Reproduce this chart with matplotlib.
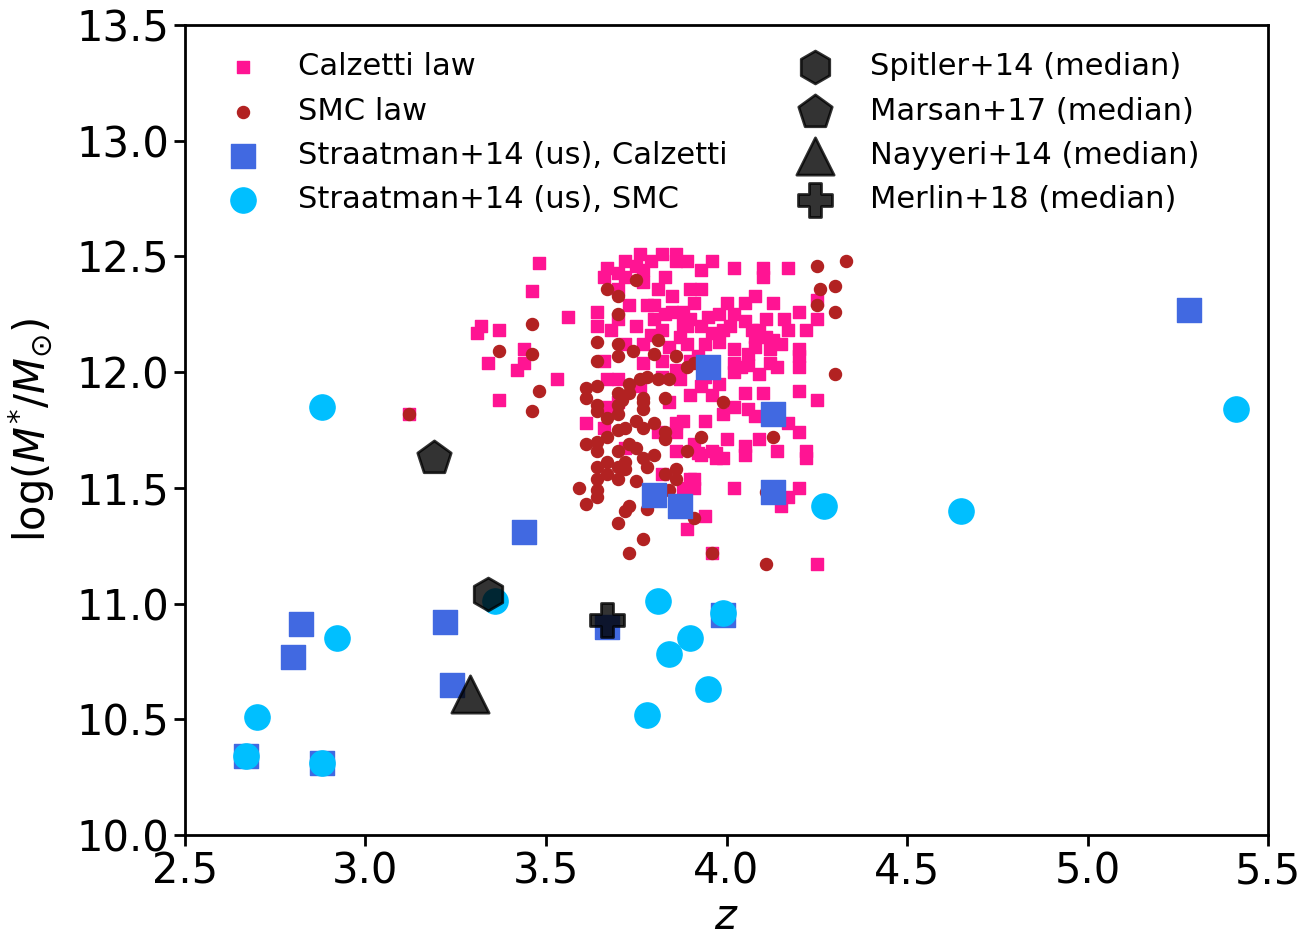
import numpy as np
import matplotlib
matplotlib.use('Agg')
import matplotlib.pyplot as plt

# sample from the Calzetti attenuation law
calz_z = [3.12, 3.32, 3.31, 3.37, 3.44, 3.34, 3.44, 3.42, 3.37, 3.48, 3.46, 3.56, 3.53, 3.64,
          3.66, 3.70, 3.72, 3.75, 3.76, 3.86, 3.86, 3.85, 3.70, 3.73, 3.75, 3.70, 3.80, 3.80,
          3.85, 3.88, 3.77, 3.84, 3.77, 3.82, 3.67, 3.70, 3.76, 3.61, 3.67, 3.70, 3.84, 3.86,
          3.81, 3.86, 3.72, 3.86, 3.82, 3.90, 3.88, 3.66, 3.88, 3.94, 3.91, 3.93, 3.96, 3.97,
          3.91, 3.91, 3.94, 3.89, 3.96, 3.89, 4.02, 4.10, 4.17, 4.10, 4.25, 3.91, 4.00, 4.05,
          4.08, 4.13, 4.20, 4.25, 4.22, 3.88, 3.95, 3.89, 3.93, 3.99, 4.05, 4.11, 4.16, 4.11,
          4.08, 4.13, 3.96, 4.01, 3.94, 3.98, 4.02, 4.06, 4.08, 4.12, 4.20, 4.20, 3.90, 4.02,
          4.04, 4.12, 4.14, 4.20, 3.94, 3.98, 4.02, 4.05, 4.10, 4.20, 4.25, 4.02, 4.06, 4.08,
          3.99, 4.17, 4.20, 3.92, 3.97, 4.05, 4.05, 4.14, 4.22, 4.22, 3.99, 4.02, 4.20, 4.17,
          4.15, 4.25, 3.90, 3.93, 3.83, 3.78, 3.89, 3.92, 3.87, 3.82, 3.86, 3.77, 3.81, 3.83,
          3.67, 3.79, 3.82, 3.77, 3.93, 3.96, 3.72, 3.64, 3.68, 3.79, 3.82, 3.90, 3.98, 4.02,
          4.07, 4.09, 4.17, 4.15, 4.06, 4.09, 3.96, 3.90, 4.00, 4.09, 3.87, 3.93, 3.72, 3.66]
calz_m = [11.82, 12.20, 12.17, 12.18, 12.10, 12.04, 12.04, 12.01, 11.88, 12.47, 12.35, 12.24, 11.97, 12.20,
          12.41, 12.43, 12.41, 12.46, 12.51, 12.51, 12.48, 12.33, 12.36, 12.29, 12.20, 12.23, 12.29, 12.23,
          12.26, 12.21, 12.12, 12.11, 12.04, 11.98, 11.97, 11.97, 11.94, 11.78, 11.85, 11.87, 11.87, 11.78,
          11.74, 11.74, 11.67, 11.66, 11.56, 11.54, 11.50, 11.76, 11.79, 11.79, 11.69, 11.64, 11.66, 11.63,
          11.54, 11.50, 11.38, 11.32, 11.22, 12.48, 12.45, 12.45, 12.45, 12.41, 12.31, 12.30, 12.30, 12.30,
          12.33, 12.30, 12.26, 12.23, 12.18, 12.26, 12.24, 12.20, 12.20, 12.18, 12.22, 12.23, 12.23, 12.15,
          12.15, 12.14, 12.17, 12.20, 12.12, 12.13, 12.10, 12.08, 12.11, 12.10, 12.10, 12.07, 12.05, 12.04,
          12.02, 12.04, 12.02, 12.02, 11.98, 11.95, 12.00, 11.91, 11.91, 11.92, 11.88, 11.85, 11.84, 11.81,
          11.82, 11.78, 11.74, 11.65, 11.65, 11.68, 11.64, 11.66, 11.66, 11.63, 11.63, 11.50, 11.50, 11.46,
          11.42, 11.17, 12.36, 12.36, 12.25, 12.29, 12.12, 12.07, 12.15, 12.05, 12.01, 12.39, 12.36, 12.41,
          12.45, 12.48, 12.51, 12.44, 12.44, 12.48, 12.48, 12.26, 12.18, 12.16, 12.18, 12.23, 12.25, 12.25,
          12.18, 12.18, 12.18, 12.12, 12.03, 11.99, 11.90, 11.90, 11.71, 11.71, 11.97, 11.94, 12.12, 12.05]

# same sample with the SMC law
smc_z = [3.12, 3.46, 3.37, 3.46, 3.48, 3.46, 3.75, 3.67, 3.70, 3.70, 3.64, 3.64, 3.70, 3.70,
         3.74, 3.81, 3.80, 3.86, 3.89, 3.78, 3.81, 3.84, 3.61, 3.64, 3.61, 3.70, 3.73, 3.73,
         3.77, 3.83, 4.25, 4.33, 4.26, 4.30, 4.25, 4.30, 4.30, 3.91, 3.99, 3.93, 4.13, 3.89,
         4.11, 3.91, 3.96, 4.11, 3.64, 3.64, 3.67, 3.70, 3.70, 3.72, 3.77, 3.77, 3.75, 3.77,
         3.80, 3.83, 3.83, 3.61, 3.64, 3.64, 3.70, 3.73, 3.75, 3.77, 3.67, 3.64, 3.70, 3.72,
         3.78, 3.67, 3.70, 3.64, 3.75, 3.83, 3.86, 3.86, 3.64, 3.59, 3.64, 3.61, 3.73, 3.72,
         3.78, 3.70, 3.77, 3.73, 3.70, 3.72, 3.84, 3.76, 3.67, 3.80, 3.71]
smc_m = [11.82, 12.21, 12.09, 12.08, 11.92, 11.83, 12.40, 12.36, 12.33, 12.25, 12.13, 12.05, 12.12, 12.07,
         12.09, 12.14, 12.08, 12.07, 12.02, 11.98, 11.97, 11.97, 11.93, 11.94, 11.89, 11.91, 11.95, 11.91,
         11.89, 11.89, 12.46, 12.48, 12.36, 12.37, 12.29, 12.26, 11.99, 12.04, 11.87, 11.72, 11.72, 11.66,
         11.48, 11.37, 11.22, 11.17, 11.86, 11.83, 11.80, 11.82, 11.75, 11.76, 11.87, 11.84, 11.79, 11.76,
         11.78, 11.74, 11.71, 11.69, 11.70, 11.66, 11.66, 11.69, 11.67, 11.63, 11.61, 11.59, 11.59, 11.61,
         11.59, 11.56, 11.54, 11.54, 11.53, 11.56, 11.58, 11.54, 11.49, 11.50, 11.46, 11.43, 11.42, 11.40,
         11.41, 11.35, 11.28, 11.22, 11.86, 11.58, 11.49, 11.97, 11.72, 11.64, 11.88]

# Straatman+14 objects
st_calz_z = [2.67, 2.88, 2.80, 2.82, 3.22, 3.24, 3.44, 3.67, 3.80, 3.87, 3.95, 3.99, 4.13, 4.13, 5.28]
st_calz_m = [10.34, 10.31, 10.77, 10.91, 10.92, 10.65, 11.31, 10.90, 11.47, 11.42, 12.02, 10.95, 11.82, 11.48, 12.27]
st_smc_z = [2.88, 2.92, 2.70, 2.67, 2.88, 3.36, 3.81, 3.84, 3.90, 3.78, 3.95, 3.99, 4.27, 4.65, 5.41]
st_smc_m = [11.85, 10.85, 10.51, 10.34, 10.31, 11.01, 11.01, 10.78, 10.85, 10.52, 10.63, 10.96, 11.42, 11.40, 11.84]

# literature medians: label, marker, z, logM
medians = [('Spitler+14 (median)', 'h', 3.34, 11.04),
           ('Marsan+17 (median)', 'p', 3.19, 11.63),
           ('Nayyeri+14 (median)', '^', 3.29, 10.61),
           ('Merlin+18 (median)', 'P', 3.67, 10.93)]

fig, ax = plt.subplots(figsize=(13.1, 9.42), dpi=100)
fig.subplots_adjust(left=0.1412, right=0.968, top=0.9735, bottom=0.1136)

ax.scatter(calz_z, calz_m, marker='s', s=75, color='deeppink', label='Calzetti law')
ax.scatter(smc_z, smc_m, marker='o', s=75, color='firebrick', label='SMC law')
ax.scatter(st_calz_z, st_calz_m, marker='s', s=300, color='royalblue', label='Straatman+14 (us), Calzetti')
ax.scatter(st_smc_z, st_smc_m, marker='o', s=330, color='deepskyblue', label='Straatman+14 (us), SMC')

med_sizes = {'h': 560, 'p': 640, '^': 720, 'P': 580}
for lab, mk, zz, mm in medians:
    ax.scatter([zz], [mm], marker=mk, s=med_sizes[mk], color='k', alpha=0.8,
               edgecolors='k', linewidths=2, label=lab)

ax.set_xlim(2.5, 5.5)
ax.set_ylim(10.0, 13.5)
ax.set_xticks(np.arange(2.5, 5.51, 0.5))
ax.set_yticks(np.arange(10.0, 13.51, 0.5))
ax.tick_params(labelsize=30, width=2, length=8)
for sp in ax.spines.values():
    sp.set_linewidth(2)

ax.set_xlabel('$z$', fontsize=30, labelpad=2)
ax.set_ylabel(r'$\log(M^{*}/M_{\odot})$', fontsize=30, labelpad=14)

ax.legend(loc='upper left', ncol=2, frameon=False, fontsize=22, columnspacing=1.85,
          labelspacing=0.5)

fig.savefig('out.png', dpi=100)
